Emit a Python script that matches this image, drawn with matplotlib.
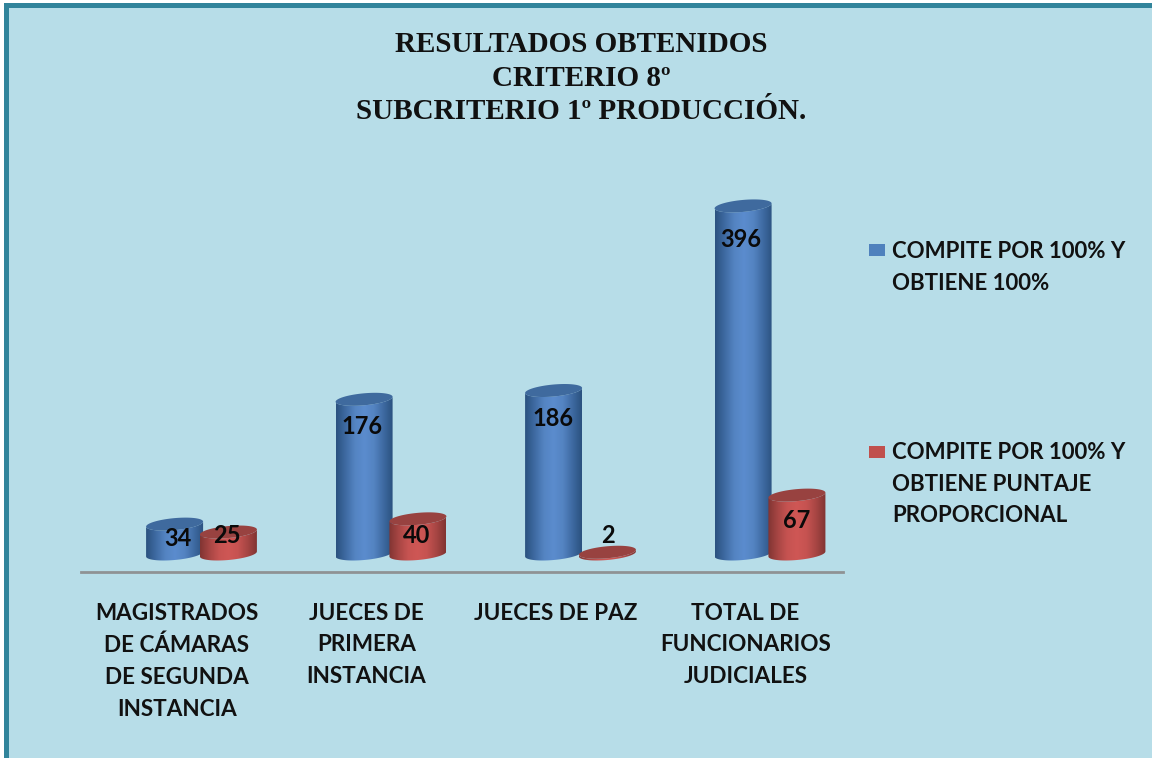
import matplotlib
matplotlib.use("Agg")
import matplotlib.pyplot as plt
import numpy as np
from matplotlib.colors import LinearSegmentedColormap
from matplotlib.patches import PathPatch, Rectangle
from matplotlib.path import Path

categories = ["MAGISTRADOS\nDE CÁMARAS\nDE SEGUNDA\nINSTANCIA", "JUECES DE\nPRIMERA\nINSTANCIA",
              "JUECES DE PAZ", "TOTAL DE\nFUNCIONARIOS\nJUDICIALES"]
series_a = [34, 176, 186, 396]
series_b = [25, 40, 2, 67]
name_a = "COMPITE POR 100% Y\nOBTIENE 100%"
name_b = "COMPITE POR 100% Y\nOBTIENE PUNTAJE\nPROPORCIONAL"
title = "RESULTADOS OBTENIDOS\nCRITERIO 8º\nSUBCRITERIO 1º PRODUCCIÓN."

W, H = 1152, 758
BG = "#b7dde8"
FRAME = "#31849b"
BLUE = ["#2b5280", "#3f6ba3", "#5484c2", "#5b8cce", "#5484c2", "#3f6ba3", "#2b5280"]
RED = ["#823533", "#a84644", "#c65351", "#cf5755", "#c65351", "#a84644", "#823533"]
BLUE_TOP = "#3f6a9e"
RED_TOP = "#984240"
TEXT = "#111111"

plt.rcParams["font.family"] = ["Lato", "DejaVu Sans"]

fig = plt.figure(figsize=(W / 100, H / 100), dpi=100, facecolor="white")

# full size layer for the frame and background
bg = fig.add_axes([0, 0, 1, 1])
bg.set_xlim(0, W)
bg.set_ylim(H, 0)
bg.axis("off")
bg.add_patch(Rectangle((4, 3), W - 4, H - 3, fc=FRAME, ec="none"))
bg.add_patch(Rectangle((9, 8), W - 9, H - 8, fc=BG, ec="none"))

# plot area: baseline at pixel 572, value 0 at pixel 554
left, right, bottom_px, top_px = 81, 843, 572, 150
x0_px, y0_px = 201.5, 554
px_x = 189.5
px_y = 0.879
ax = fig.add_axes([left / W, 1 - bottom_px / H, (right - left) / W, (bottom_px - top_px) / H])
ax.patch.set_visible(False)
xlim = ((left - x0_px) / px_x, (right - x0_px) / px_x)
ylim = (-(bottom_px - y0_px) / px_y, (y0_px - top_px) / px_y)
for s in ["top", "left", "right"]:
    ax.spines[s].set_visible(False)
ax.spines["bottom"].set_color("#8f9294")
ax.spines["bottom"].set_linewidth(2)
ax.set_yticks([])
ax.set_xticks(np.arange(len(categories)) - 0.13)
ax.set_xticklabels(categories, fontsize=16.2, fontweight="bold", color=TEXT, linespacing=1.63, va="top")
ax.tick_params(axis="x", length=0, pad=22)


def cylinder(xc, value, cmap_colors, top_color):
    a = 28.5 / px_x
    b = 6 / px_y
    k = 2.5 / px_y
    t = np.linspace(np.pi, 2 * np.pi, 40)
    xs = xc + a * np.cos(t)
    lower = b * np.sin(t) + k * np.cos(t)
    t2 = t[::-1]
    upper = value + b * np.sin(t2) + k * np.cos(t2)
    body = np.column_stack([np.r_[xs, xs[::-1]], np.r_[lower, upper]])
    patch = PathPatch(Path(np.vstack([body, body[0]]), closed=True), fc="none", ec="none")
    ax.add_patch(patch)
    cmap = LinearSegmentedColormap.from_list("c", cmap_colors)
    im = ax.imshow(np.linspace(0, 1, 64)[None, :], cmap=cmap, aspect="auto", zorder=2,
                   extent=(xc - a, xc + a, -k - b - 5, value + k + b + 5))
    im.set_clip_path(patch)
    tt = np.linspace(0, 2 * np.pi, 80)
    top = np.column_stack([xc + a * np.cos(tt), value + b * np.sin(tt) + k * np.cos(tt)])
    ax.add_patch(PathPatch(Path(top, closed=True), fc=top_color, ec="none", zorder=3))


# label shifts in pixels from the top of each bar
offsets_a = [(3, -14), (-2, -27), (-1, -28), (-2, -34)]
offsets_b = [(-1, -3), (-1, -17), (1, 17), (0, -25)]
group = 0.142
for i in range(len(categories)):
    cylinder(i - group, series_a[i], BLUE, BLUE_TOP)
    cylinder(i + group, series_b[i], RED, RED_TOP)
    ax.annotate(str(series_a[i]), (i - group, series_a[i]), xytext=offsets_a[i], textcoords="offset pixels",
                ha="center", va="center", fontsize=17, fontweight="bold", color="#0a0a0a", zorder=5)
    ax.annotate(str(series_b[i]), (i + group, series_b[i]), xytext=offsets_b[i], textcoords="offset pixels",
                ha="center", va="center", fontsize=17, fontweight="bold", color="#0a0a0a", zorder=5)
ax.set_xlim(xlim)
ax.set_ylim(ylim)

# legend
bg.add_patch(Rectangle((869, 244), 16, 12, fc="#4f81bd", ec="none"))
bg.add_patch(Rectangle((869, 446), 16, 12, fc="#c0504d", ec="none"))
bg.text(892, 241, name_a, fontsize=16, fontweight="bold", color=TEXT, va="top", linespacing=1.63)
bg.text(892, 442, name_b, fontsize=16, fontweight="bold", color=TEXT, va="top", linespacing=1.63)

bg.text(581, 31, title, fontsize=21, fontweight="bold", family=["Liberation Serif"], color=TEXT,
        ha="center", va="top", linespacing=1.32)

fig.savefig("out.png", dpi=100, facecolor="white")
